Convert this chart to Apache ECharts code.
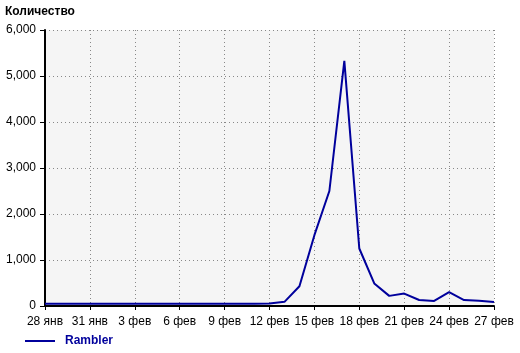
<!DOCTYPE html>
<html>
<head>
<meta charset="utf-8">
<script src="https://cdn.jsdelivr.net/npm/echarts@6/dist/echarts.min.js"></script>
<style>html,body{margin:0;padding:0;background:#fff}#c{width:520px;height:353px}</style>
</head>
<body>
<div id="c"></div>
<script>
const categories = ["28 янв","29 янв","30 янв","31 янв","1 фев","2 фев","3 фев","4 фев","5 фев","6 фев","7 фев","8 фев","9 фев","10 фев","11 фев","12 фев","13 фев","14 фев","15 фев","16 фев","17 фев","18 фев","19 фев","20 фев","21 фев","22 фев","23 фев","24 фев","25 фев","26 фев","27 фев"];
const rambler = [50,50,50,50,50,50,50,50,50,50,50,50,50,50,50,55,90,430,1540,2500,5330,1250,490,220,270,130,110,300,130,115,85];
const yTicks = [0,1000,2000,3000,4000,5000,6000];
const seriesName = "Rambler";
const yTitle = "Количество";

const font = "'Liberation Sans', Arial, sans-serif";
const chart = echarts.init(document.getElementById('c'), null, {renderer: 'canvas'});
chart.setOption({
  animation: false,
  title: {text: yTitle, left: 5, top: 6, padding: 0, textStyle: {fontFamily: font, fontSize: 12, fontWeight: 'bold', color: '#000'}},
  legend: {
    left: 25, top: 335, padding: 0, itemWidth: 30, itemHeight: 12, itemGap: 8,
    icon: 'path://M0,5 L30,5 L30,7 L0,7 Z',
    data: [seriesName],
    textStyle: {fontFamily: font, fontSize: 12, fontWeight: 'bold', color: '#00009c', padding: [0, 0, 0, 5]}
  },
  grid: {left: 45, right: 26, top: 30, bottom: 47, show: true, backgroundColor: '#f5f5f5', borderWidth: 0},
  xAxis: {
    type: 'category', data: categories, boundaryGap: false,
    axisLine: {lineStyle: {color: '#000', width: 2}},
    axisTick: {interval: 2, length: 4, lineStyle: {color: '#000', width: 1}},
    axisLabel: {interval: 2, color: '#000', fontFamily: font, fontSize: 12, margin: 10},
    splitLine: {show: true, interval: 2, lineStyle: {color: '#888', type: [1, 3], width: 1}}
  },
  yAxis: {
    type: 'value', min: yTicks[0], max: yTicks[yTicks.length-1], interval: 1000,
    axisLine: {show: true, lineStyle: {color: '#000', width: 2}},
    axisTick: {show: true, length: 5, lineStyle: {color: '#000'}},
    axisLabel: {color: '#000', fontFamily: font, fontSize: 12, margin: 9,
      formatter: v => v.toLocaleString('en-US')},
    splitLine: {show: true, lineStyle: {color: '#888', type: [1, 3], width: 1}}
  },
  series: [{
    name: seriesName, type: 'line', data: rambler, showSymbol: false, symbol: 'none',
    lineStyle: {color: '#00009c', width: 2}, itemStyle: {color: '#00009c'}
  }]
});
</script>
</body>
</html>
